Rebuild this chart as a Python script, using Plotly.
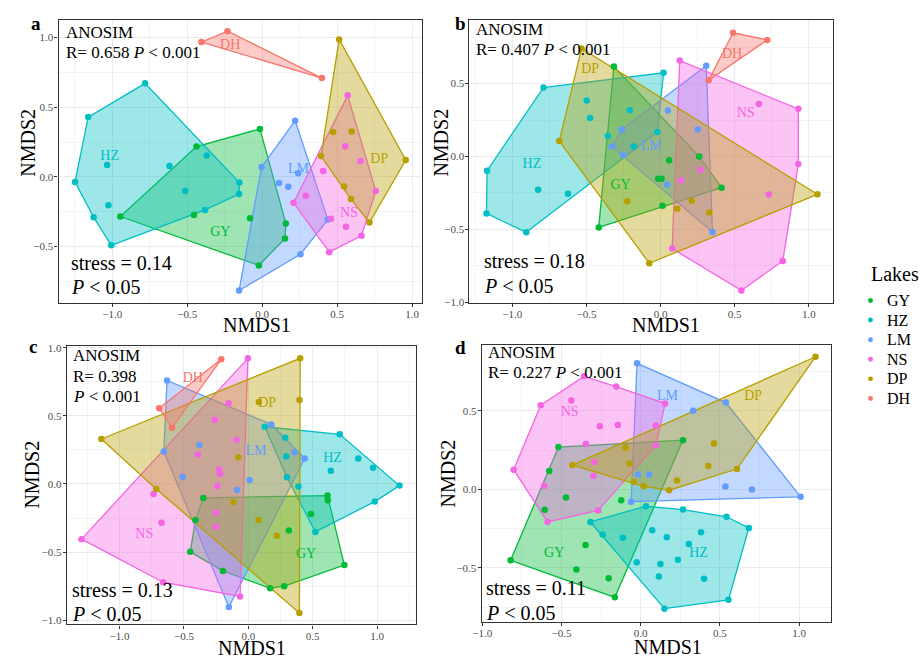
import plotly.graph_objects as go

W, H = 921, 662
FONT = "Liberation Serif"

groups = ["GY", "HZ", "LM", "NS", "DP", "DH"]
colors = {"GY": "#00BA38", "HZ": "#00BFC4", "LM": "#619CFF",
          "NS": "#F564E3", "DP": "#B79F00", "DH": "#F8766D"}

# ---------------- Panel a ----------------
a_GY_x = [-0.015, -0.438, -0.946, -0.022, 0.152, 0.158, -0.455, -0.081]
a_GY_y = [0.344, 0.218, -0.284, -0.635, -0.441, -0.334, -0.273, -0.296]
a_HZ_x = [-0.781, -1.160, -1.248, -1.124, -1.006, -0.154, -0.152, -1.034, -0.618, -0.370, -0.513, -1.025, -0.381]
a_HZ_y = [0.671, 0.429, -0.036, -0.289, -0.491, -0.123, -0.040, 0.085, 0.078, 0.154, -0.102, -0.204, -0.237]
a_LM_x = [0.220, -0.004, -0.154, 0.255, 0.438, 0.240, 0.112, 0.174]
a_LM_y = [0.403, 0.071, -0.815, -0.555, -0.306, 0.026, -0.043, -0.071]
a_NS_x = [0.570, 0.757, 0.662, 0.447, 0.209, 0.554, 0.656, 0.407, 0.290, 0.458, 0.559]
a_NS_y = [0.585, -0.102, -0.422, -0.540, -0.185, 0.220, 0.114, 0.043, -0.135, -0.301, -0.358]
a_DP_x = [0.513, 0.957, 0.715, 0.392, 0.473, 0.596, 0.546, 0.592]
a_DP_y = [0.986, 0.121, -0.327, 0.149, 0.322, 0.325, -0.069, -0.159]
a_DH_x = [-0.405, -0.231, 0.398]
a_DH_y = [0.967, 1.045, 0.709]
a_lab_x = [-0.279, -1.017, 0.242, 0.579, 0.781, -0.213]
a_lab_y = [-0.400, 0.145, 0.050, -0.263, 0.126, 0.943]

# ---------------- Panel b ----------------
b_GY_x = [-0.315, 0.411, -0.417, 0.261, 0.058, -0.016, 0.007, 0.013]
b_GY_y = [0.617, -0.214, -0.486, 0.000, -0.025, -0.153, -0.153, -0.338]
b_HZ_x = [-1.170, -0.790, 0.020, -0.022, -0.906, -1.174, -0.498, -0.475, -0.208, -0.355, -0.181, -0.826, -0.625]
b_HZ_y = [-0.097, 0.473, 0.574, 0.169, -0.520, -0.390, 0.385, 0.264, 0.318, 0.140, 0.068, -0.227, -0.255]
b_LM_x = [0.308, 0.350, -0.328, -0.261, 0.049, 0.250, -0.252, 0.045]
b_LM_y = [0.622, -0.518, 0.068, 0.185, 0.315, 0.185, 0.011, -0.194]
b_NS_x = [0.129, 0.929, 0.929, 0.824, 0.545, 0.078, 0.663, 0.270, 0.138, 0.730]
b_NS_y = [0.658, 0.327, -0.052, -0.716, -0.919, -0.631, 0.360, -0.090, -0.164, -0.261]
b_DP_x = [-0.533, 1.058, -0.076, -0.683, -0.225, 0.112, 0.210, 0.328]
b_DP_y = [0.741, -0.259, -0.732, 0.106, -0.306, -0.358, -0.304, -0.383]
b_DH_x = [0.489, 0.719, 0.324]
b_DH_y = [0.849, 0.800, 0.523]
b_lab_x = [-0.270, -0.868, -0.063, 0.574, -0.475, 0.482]
b_lab_y = [-0.200, -0.056, 0.072, 0.297, 0.597, 0.698]

# ---------------- Panel c ----------------
c_GY_x = [-0.349, 0.615, 0.746, 0.279, 0.169, -0.197, -0.451, -0.410, 0.618, 0.487, 0.315]
c_GY_y = [-0.102, -0.085, -0.595, -0.750, -0.765, -0.638, -0.498, -0.265, -0.119, -0.221, -0.342]
c_HZ_x = [0.128, 0.710, 1.174, 0.982, 0.521, 0.287, 0.295, 0.300, 0.390, 0.641, 0.854, 0.969]
c_HZ_y = [0.420, 0.364, -0.012, -0.129, -0.352, 0.340, 0.201, 0.049, -0.019, 0.097, 0.187, 0.119]
c_LM_x = [-0.631, 0.438, -0.151, -0.656, 0.179, 0.359, -0.379, -0.510, 0.010, -0.087]
c_LM_y = [0.760, 0.187, -0.903, 0.238, 0.437, 0.233, 0.286, 0.051, 0.029, -0.044]
c_NS_x = [-0.003, -0.064, -0.662, -1.295, -0.154, -0.259, -0.092, -0.392, -0.226, -0.218, -0.241, -0.736, -0.249, -0.254, -0.674]
c_NS_y = [0.922, -0.825, -0.721, -0.405, 0.592, 0.471, 0.325, 0.216, 0.107, 0.075, -0.017, -0.073, -0.211, -0.313, -0.284]
c_DP_x = [0.403, 0.397, -1.141, 0.397, 0.082, -0.077, -0.715, -0.115, 0.082, 0.221]
c_DP_y = [0.922, -0.947, 0.330, 0.617, 0.602, 0.197, -0.036, -0.133, -0.265, -0.379]
c_DH_x = [-0.210, -0.692, -0.592]
c_DH_y = [0.915, 0.556, 0.413]
c_lab_x = [0.449, 0.654, 0.059, -0.808, 0.146, -0.431]
c_lab_y = [-0.515, 0.184, 0.238, -0.374, 0.592, 0.772]

# ---------------- Panel d ----------------
d_GY_x = [-0.519, 0.267, -0.163, -0.821, -0.577, -0.471, -0.606, -0.123, -0.348, -0.406, -0.202]
d_GY_y = [0.269, 0.313, -0.688, -0.452, 0.117, -0.052, -0.131, -0.069, -0.354, -0.510, -0.567]
d_HZ_x = [-0.317, 0.033, 0.267, 0.542, 0.683, 0.554, 0.150, -0.240, -0.113, 0.073, 0.165, 0.381, 0.304, -0.025, 0.125, 0.235, 0.115, 0.400]
d_HZ_y = [-0.208, -0.108, -0.129, -0.175, -0.246, -0.704, -0.760, -0.288, -0.308, -0.260, -0.306, -0.273, -0.348, -0.465, -0.475, -0.448, -0.556, -0.569]
d_LM_x = [-0.023, 0.538, 1.010, -0.060, 0.331, -0.017, 0.054, 0.535, 0.702]
d_LM_y = [0.802, 0.552, -0.048, -0.079, 0.500, 0.094, 0.094, 0.017, -0.002]
d_NS_x = [-0.358, -0.154, 0.154, 0.096, -0.269, -0.588, -0.802, -0.631, -0.438, -0.258, -0.144, 0.096, -0.346, -0.294, -0.298, -0.608]
d_NS_y = [0.719, 0.654, 0.546, 0.281, -0.135, -0.208, 0.125, 0.535, 0.565, 0.402, 0.410, 0.406, 0.288, 0.173, 0.085, 0.023]
d_DP_x = [1.104, 0.608, 0.179, -0.044, -0.431, -0.096, 0.463, -0.071, 0.427, 0.019, 0.229]
d_DP_y = [0.844, 0.129, -0.006, 0.048, 0.154, 0.265, 0.292, 0.165, 0.148, 0.019, 0.056]
d_DH_x = []
d_DH_y = []
d_lab_x = [-0.546, 0.365, 0.169, -0.448, 0.710, None]
d_lab_y = [-0.406, -0.408, 0.590, 0.490, 0.590, None]

# statistics text
anosim_R = ["0.658", "0.407", "0.398", "0.227"]
stress = ["0.14", "0.18", "0.13", "0.11"]

panels = {
    "a": {"GY": (a_GY_x, a_GY_y), "HZ": (a_HZ_x, a_HZ_y), "LM": (a_LM_x, a_LM_y),
          "NS": (a_NS_x, a_NS_y), "DP": (a_DP_x, a_DP_y), "DH": (a_DH_x, a_DH_y),
          "lab": (a_lab_x, a_lab_y)},
    "b": {"GY": (b_GY_x, b_GY_y), "HZ": (b_HZ_x, b_HZ_y), "LM": (b_LM_x, b_LM_y),
          "NS": (b_NS_x, b_NS_y), "DP": (b_DP_x, b_DP_y), "DH": (b_DH_x, b_DH_y),
          "lab": (b_lab_x, b_lab_y)},
    "c": {"GY": (c_GY_x, c_GY_y), "HZ": (c_HZ_x, c_HZ_y), "LM": (c_LM_x, c_LM_y),
          "NS": (c_NS_x, c_NS_y), "DP": (c_DP_x, c_DP_y), "DH": (c_DH_x, c_DH_y),
          "lab": (c_lab_x, c_lab_y)},
    "d": {"GY": (d_GY_x, d_GY_y), "HZ": (d_HZ_x, d_HZ_y), "LM": (d_LM_x, d_LM_y),
          "NS": (d_NS_x, d_NS_y), "DP": (d_DP_x, d_DP_y), "DH": (d_DH_x, d_DH_y),
          "lab": (d_lab_x, d_lab_y)},
}

# layout geometry (pixels)
geom = {
    "a": dict(px=(50, 417), py=(15, 302.5), xr=(-1.358, 1.065), yr=(-0.904, 1.127)),
    "b": dict(px=(465, 832.3), py=(15, 302.5), xr=(-1.289, 1.164), yr=(-1.004, 0.938)),
    "c": dict(px=(58.3, 410.7), py=(346.7, 629), xr=(-1.41, 1.30), yr=(-1.031, 1.009)),
    "d": dict(px=(477.3, 830), py=(345, 626), xr=(-1.004, 1.201), yr=(-0.842, 0.920)),
}


def hull(xs, ys):
    pts = sorted(set(zip(xs, ys)))
    if len(pts) < 3:
        return pts

    def cross(o, a, b):
        return (a[0] - o[0]) * (b[1] - o[1]) - (a[1] - o[1]) * (b[0] - o[0])

    lower, upper = [], []
    for p in pts:
        while len(lower) >= 2 and cross(lower[-2], lower[-1], p) <= 0:
            lower.pop()
        lower.append(p)
    for p in reversed(pts):
        while len(upper) >= 2 and cross(upper[-2], upper[-1], p) <= 0:
            upper.pop()
        upper.append(p)
    return lower[:-1] + upper[:-1]


def rgba(hexc, a):
    h = hexc.lstrip("#")
    return "rgba(%d,%d,%d,%.2f)" % (int(h[0:2], 16), int(h[2:4], 16), int(h[4:6], 16), a)


def PX(x):
    return x / W


def PY(y):
    return 1 - y / H


fig = go.Figure()
layout = {}
annotations = []
shapes = []

for i, key in enumerate(["a", "b", "c", "d"]):
    sfx = "" if i == 0 else str(i + 1)
    xa, ya = "x" + sfx, "y" + sfx
    g = geom[key]
    pdat = panels[key]
    # polygons (convex hulls)
    for grp in groups:
        xs, ys = pdat[grp]
        if len(xs) == 0:
            continue
        hp = hull(xs, ys)
        hx = [p[0] for p in hp] + [hp[0][0]]
        hy = [p[1] for p in hp] + [hp[0][1]]
        fig.add_trace(go.Scatter(x=hx, y=hy, xaxis=xa, yaxis=ya, mode="lines",
                                 fill="toself", fillcolor=rgba(colors[grp], 0.38),
                                 line=dict(color=colors[grp], width=1.3),
                                 hoverinfo="skip", showlegend=False))
    # points
    for grp in groups:
        xs, ys = pdat[grp]
        if len(xs) == 0:
            continue
        fig.add_trace(go.Scatter(x=xs, y=ys, xaxis=xa, yaxis=ya, mode="markers",
                                 marker=dict(color=colors[grp], size=6.5),
                                 name=grp, legendgroup=grp, showlegend=False))
    # group labels
    lx, ly = pdat["lab"]
    for j, grp in enumerate(groups):
        if lx[j] is None:
            continue
        fig.add_trace(go.Scatter(x=[lx[j]], y=[ly[j]], xaxis=xa, yaxis=ya, mode="text",
                                 text=[grp], textfont=dict(family=FONT, size=14, color=colors[grp]),
                                 hoverinfo="skip", showlegend=False))

    axis_common = dict(showline=True, mirror=True, linecolor="#333333", linewidth=1.1,
                       ticks="outside", ticklen=3, tickcolor="#333333", tickwidth=1,
                       showgrid=True, gridcolor="#EBEBEB", gridwidth=1,
                       zeroline=False, dtick=0.5, tick0=0, tickformat=".1f",
                       tickfont=dict(family=FONT, size=11, color="#4D4D4D"),
                       minor=dict(dtick=0.25, tick0=0, showgrid=True, gridcolor="#F4F4F4",
                                  gridwidth=0.6, ticks=""))
    layout["xaxis" + sfx] = dict(axis_common, domain=[PX(g["px"][0]), PX(g["px"][1])],
                                 range=list(g["xr"]), anchor=ya, ticklabelstandoff=-2)
    layout["yaxis" + sfx] = dict(axis_common, domain=[PY(g["py"][1]), PY(g["py"][0])],
                                 range=list(g["yr"]), anchor=xa, ticklabelstandoff=-1)


def ann(x, y, text, size, color="black", xanchor="left", angle=0):
    annotations.append(dict(x=PX(x), y=PY(y), xref="paper", yref="paper", text=text,
                            showarrow=False, xanchor=xanchor, yanchor="middle",
                            textangle=angle,
                            font=dict(family=FONT, size=size, color=color)))


# panel letters
ann(20, 19, "<b>a</b>", 19)
ann(448, 19, "<b>b</b>", 19)
ann(18, 347, "<b>c</b>", 19)
ann(448, 348, "<b>d</b>", 19)

# ANOSIM / stress texts
ann(56, 28, "ANOSIM", 17)
ann(56, 48, "R= %s <i>P</i> &lt; 0.001" % anosim_R[0], 17)
ann(61, 262, "stress = %s" % stress[0], 20)
ann(61, 286, "<i>P</i> &lt; 0.05", 20)

ann(470, 25, "ANOSIM", 17)
ann(470, 45, "R= %s <i>P</i> &lt; 0.001" % anosim_R[1], 17)
ann(478, 260, "stress = %s" % stress[1], 20)
ann(478, 285, "<i>P</i> &lt; 0.05", 20)

ann(63, 356, "ANOSIM", 17)
ann(63, 377, "R= %s" % anosim_R[2], 17)
ann(63, 398, "<i>P</i> &lt; 0.001", 17)
ann(62, 594, "stress = %s" % stress[2], 20)
ann(62, 618, "<i>P</i> &lt; 0.05", 20)

ann(482, 353, "ANOSIM", 17)
ann(482, 373, "R= %s <i>P</i> &lt; 0.001" % anosim_R[3], 17)
ann(480, 592, "stress = %s" % stress[3], 20)
ann(480, 617, "<i>P</i> &lt; 0.05", 20)

# axis titles
ann(250, 325, "NMDS1", 20, xanchor="center")
ann(663, 325, "NMDS1", 20, xanchor="center")
ann(245, 653, "NMDS1", 20, xanchor="center")
ann(665, 652, "NMDS1", 20, xanchor="center")
ann(19, 140, "NMDS2", 20, xanchor="center", angle=-90)
ann(436, 140, "NMDS2", 20, xanchor="center", angle=-90)
ann(23, 477, "NMDS2", 20, xanchor="center", angle=-90)
ann(443, 476, "NMDS2", 20, xanchor="center", angle=-90)

# legend (keys drawn as circles in paper space, labels as text)
ann(868, 273, "Lakes", 20)
for k, grp in enumerate(groups):
    yc = 300 + 19.9 * k
    shapes.append(dict(type="circle", xref="paper", yref="paper",
                       x0=PX(867.5), x1=PX(872.5), y0=PY(yc + 2.5), y1=PY(yc - 2.5),
                       fillcolor=colors[grp], line=dict(width=0)))
    ann(885, yc, grp, 16)

layout.update(
    width=W, height=H, margin=dict(l=0, r=0, t=0, b=0),
    paper_bgcolor="white", plot_bgcolor="white",
    font=dict(family=FONT, color="black"),
    annotations=annotations, shapes=shapes, showlegend=False,
)
fig.update_layout(**layout)
fig.write_html("out.html")
